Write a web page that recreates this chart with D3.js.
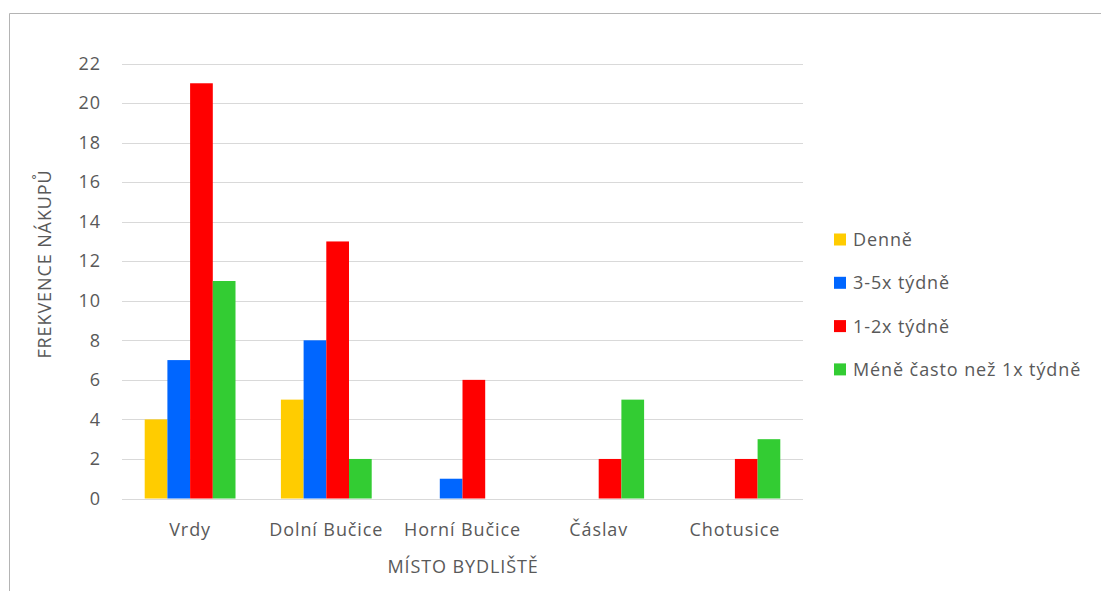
<!DOCTYPE html>
<html>
<head>
<meta charset="utf-8">
<script src="https://cdn.jsdelivr.net/npm/d3@7"></script>
<style>
  body { margin: 0; background: #fff; }
  svg { display: block; }
  text { font-family: "Open Sans", sans-serif; fill: #595959; letter-spacing: 0.9px; }
</style>
</head>
<body>
<svg id="chart" width="1101" height="591"></svg>
<script>
  // data
  var categories = ["Vrdy", "Dolní Bučice", "Horní Bučice", "Čáslav", "Chotusice"];
  var seriesNames = ["Denně", "3-5x týdně", "1-2x týdně", "Méně často než 1x týdně"];
  var seriesColors = ["#FFCC00", "#0066FF", "#FF0000", "#33CC33"];
  var denne   = [4, 5, 0, 0, 0];
  var tyden35 = [7, 8, 1, 0, 0];
  var tyden12 = [21, 13, 6, 2, 2];
  var mene    = [11, 2, 0, 5, 3];
  var yTicks = [0, 2, 4, 6, 8, 10, 12, 14, 16, 18, 20, 22];

  var values = [denne, tyden35, tyden12, mene];
  var svg = d3.select("#chart");

  var plotLeft = 122, plotRight = 803, plotTop = 63.5, plotBottom = 498.5;
  var fs = 18;

  // chart area frame (only top and left edges visible)
  svg.append("line").attr("x1", 9.5).attr("x2", 1101).attr("y1", 13.5).attr("y2", 13.5)
    .attr("stroke", "#b4b4b4").attr("stroke-width", 1);
  svg.append("line").attr("x1", 9.5).attr("x2", 9.5).attr("y1", 13.5).attr("y2", 591)
    .attr("stroke", "#b4b4b4").attr("stroke-width", 1);

  var x0 = d3.scaleBand().domain(categories).range([plotLeft, plotRight])
    .paddingInner(1/3).paddingOuter(1/6);
  var x1 = d3.scaleBand().domain(d3.range(seriesNames.length)).range([0, x0.bandwidth()]);
  var y = d3.scaleLinear().domain([0, 22]).range([plotBottom, plotTop]);

  // gridlines
  svg.append("g").selectAll("line").data(yTicks).enter().append("line")
    .attr("x1", plotLeft).attr("x2", plotRight)
    .attr("y1", function(d){return Math.round(y(d)) + 0.5})
    .attr("y2", function(d){return Math.round(y(d)) + 0.5})
    .attr("stroke", "#d9d9d9").attr("stroke-width", 1);

  // y tick labels
  var yAxis = svg.append("g").attr("transform", "translate(" + (plotLeft - 21) + ",0)")
    .call(d3.axisLeft(y).tickValues(yTicks).tickSize(0).tickPadding(0));
  yAxis.select(".domain").remove();
  yAxis.selectAll("text").attr("font-size", fs).attr("fill", "#595959")
    .style("font-family", "'Open Sans', sans-serif");

  // bars
  var groups = svg.append("g").selectAll("g").data(categories).enter().append("g")
    .attr("transform", function(d){return "translate(" + x0(d) + ",0)"});
  groups.selectAll("rect")
    .data(function(d, i){return values.map(function(s, k){return {k: k, v: s[i]}})})
    .enter().append("rect")
    .attr("x", function(d){return x1(d.k)})
    .attr("width", x1.bandwidth())
    .attr("y", function(d){return y(d.v)})
    .attr("height", function(d){return y(0) - y(d.v)})
    .attr("fill", function(d){return seriesColors[d.k]});

  // x tick labels
  var xAxis = svg.append("g").attr("transform", "translate(0," + plotBottom + ")")
    .call(d3.axisBottom(x0).tickSize(0).tickPadding(0));
  xAxis.select(".domain").remove();
  xAxis.selectAll("text").attr("y", 37).attr("dy", 0).attr("font-size", fs).attr("fill", "#595959")
    .style("font-family", "'Open Sans', sans-serif");

  // axis titles
  svg.append("text").attr("x", 463).attr("y", 573)
    .attr("text-anchor", "middle").attr("font-size", fs).text("MÍSTO BYDLIŠTĚ");
  svg.append("text").attr("transform", "translate(51,264) rotate(-90)")
    .attr("text-anchor", "middle").attr("font-size", fs).text("FREKVENCE NÁKUPŮ");

  // legend
  var legend = svg.append("g").selectAll("g").data(seriesNames).enter().append("g")
    .attr("transform", function(d, i){return "translate(834," + (239.5 + i * 43.3) + ")"});
  legend.append("rect").attr("x", 0).attr("y", -6).attr("width", 12).attr("height", 12)
    .attr("fill", function(d, i){return seriesColors[i]});
  legend.append("text").attr("x", 19).attr("y", 6.5).attr("font-size", fs).text(function(d){return d});
</script>
</body>
</html>
